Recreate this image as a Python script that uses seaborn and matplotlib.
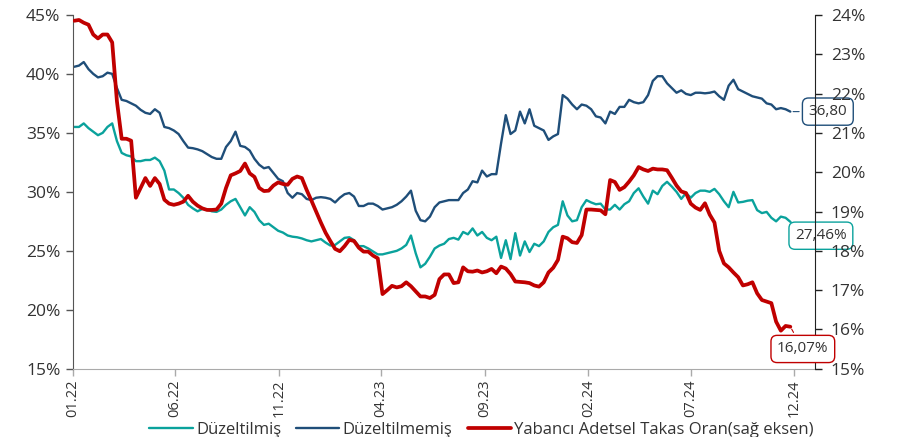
import matplotlib
matplotlib.use("Agg")
import matplotlib.pyplot as plt
import matplotlib.dates as mdates
from matplotlib.ticker import FuncFormatter, MultipleLocator
import pandas as pd
import seaborn as sns

# Weekly observations (Mondays), Jan 2022 - Nov 2024
dates = pd.date_range("2022-01-03", periods=152, freq="7D")

# Adjusted foreign share (%), left axis
duzeltilmis = [
    35.5, 35.5, 35.8, 35.4, 35.1, 34.8, 35.0, 35.5, 35.8, 34.3,
    33.3, 33.1, 33.0, 32.6, 32.6, 32.7, 32.7, 32.9, 32.6, 31.8,
    30.2, 30.2, 29.9, 29.5, 28.9, 28.6, 28.35, 28.55, 28.5, 28.35,
    28.3, 28.5, 28.9, 29.2, 29.4, 28.7, 28.0, 28.7, 28.3, 27.6,
    27.2, 27.3, 27.0, 26.7, 26.55, 26.3, 26.2, 26.15, 26.05, 25.9,
    25.8, 25.9, 26.0, 25.7, 25.45, 25.5, 25.8, 26.1, 26.15, 25.9,
    25.4, 25.4, 25.2, 24.95, 24.7, 24.7, 24.8, 24.9, 25.0, 25.2,
    25.5, 26.3, 24.8, 23.6, 23.9, 24.5, 25.2, 25.45, 25.6, 26.0,
    26.1, 25.95, 26.6, 26.4, 26.9, 26.3, 26.6, 26.1, 25.9, 26.2,
    24.4, 25.9, 24.3, 26.5, 24.6, 25.8, 24.9, 25.6, 25.4, 25.8,
    26.6, 27.0, 27.2, 29.2, 28.0, 27.5, 27.6, 28.7, 29.3, 29.1,
    28.95, 29.0, 28.5, 28.5, 28.9, 28.5, 28.95, 29.2, 29.9, 30.3,
    29.6, 29.0, 30.1, 29.8, 30.5, 30.85, 30.45, 30.0, 29.4, 29.9,
    29.5, 29.9, 30.1, 30.1, 30.0, 30.25, 29.8, 29.2, 28.7, 30.0,
    29.1, 29.15, 29.25, 29.3, 28.45, 28.2, 28.3, 27.8, 27.5, 27.9,
    27.8, 27.46,
]

# Unadjusted foreign share (%), left axis
duzeltilmemis = [
    40.6, 40.7, 41.0, 40.4, 40.0, 39.7, 39.8, 40.1, 40.0, 38.8,
    37.8, 37.7, 37.5, 37.3, 36.95, 36.7, 36.6, 37.0, 36.7, 35.5,
    35.4, 35.2, 34.9, 34.3, 33.75, 33.7, 33.6, 33.45, 33.2, 32.95,
    32.8, 32.8, 33.8, 34.3, 35.1, 33.9, 33.8, 33.5, 32.8, 32.3,
    32.0, 32.1, 31.6, 31.1, 30.9, 29.9, 29.5, 29.9, 29.8, 29.4,
    29.3, 29.5, 29.55, 29.5, 29.4, 29.1, 29.5, 29.8, 29.9, 29.6,
    28.8, 28.8, 29.0, 29.0, 28.8, 28.5, 28.6, 28.7, 28.9, 29.2,
    29.6, 30.1, 28.4, 27.6, 27.5, 27.9, 28.7, 29.1, 29.2, 29.3,
    29.3, 29.3, 29.9, 30.2, 30.9, 30.8, 31.8, 31.3, 31.5, 31.5,
    34.1, 36.5, 34.9, 35.2, 36.8, 35.8, 37.0, 35.6, 35.4, 35.2,
    34.4, 34.7, 34.9, 38.2, 37.9, 37.4, 37.0, 37.4, 37.3, 37.0,
    36.4, 36.3, 35.8, 36.8, 36.6, 37.2, 37.2, 37.8, 37.6, 37.5,
    37.6, 38.2, 39.4, 39.8, 39.8, 39.2, 38.8, 38.4, 38.6, 38.3,
    38.2, 38.4, 38.4, 38.35, 38.4, 38.5, 38.1, 37.8, 39.0, 39.5,
    38.7, 38.5, 38.3, 38.1, 38.0, 37.9, 37.5, 37.4, 37.0, 37.1,
    37.0, 36.80,
]

# Foreign custody ratio by count (%), right axis
takas_orani = [
    23.85, 23.87, 23.8, 23.75, 23.5, 23.4, 23.5, 23.5, 23.3, 21.8,
    20.85, 20.85, 20.8, 19.35, 19.6, 19.85, 19.65, 19.85, 19.7, 19.3,
    19.2, 19.17, 19.2, 19.25, 19.4, 19.25, 19.15, 19.08, 19.04, 19.04,
    19.05, 19.2, 19.6, 19.92, 19.97, 20.03, 20.22, 19.97, 19.88, 19.6,
    19.52, 19.53, 19.66, 19.74, 19.7, 19.68, 19.83, 19.89, 19.85, 19.55,
    19.28, 19.0, 18.72, 18.46, 18.25, 18.05, 17.99, 18.12, 18.28, 18.25,
    18.08, 17.98, 17.98, 17.88, 17.81, 16.9, 17.0, 17.11, 17.07, 17.1,
    17.2, 17.1, 16.97, 16.84, 16.84, 16.8, 16.88, 17.28, 17.4, 17.4,
    17.18, 17.2, 17.58, 17.48, 17.47, 17.5, 17.45, 17.48, 17.54, 17.43,
    17.6, 17.55, 17.41, 17.22, 17.21, 17.2, 17.18, 17.12, 17.09, 17.2,
    17.45, 17.57, 17.77, 18.36, 18.32, 18.22, 18.2, 18.4, 19.05, 19.05,
    19.04, 19.03, 18.93, 19.8, 19.75, 19.55, 19.62, 19.76, 19.92, 20.13,
    20.07, 20.03, 20.09, 20.07, 20.07, 20.05, 19.86, 19.66, 19.51, 19.47,
    19.2, 19.1, 19.04, 19.21, 18.92, 18.72, 18.0, 17.68, 17.58, 17.45,
    17.33, 17.12, 17.15, 17.2, 16.92, 16.75, 16.71, 16.67, 16.2, 15.97,
    16.09, 16.07,
]

names = ["Düzeltilmiş", "Düzeltilmemiş", "Yabancı Adetsel Takas Oran(sağ eksen)"]
colors = ["#0AA29C", "#1F4E79", "#C00000"]
tick_dates = ["2022-01-01", "2022-06-01", "2022-11-01", "2023-04-01",
              "2023-09-01", "2024-02-01", "2024-07-01", "2024-12-01"]

df_left = pd.DataFrame({"Tarih": dates, names[0]: duzeltilmis, names[1]: duzeltilmemis})
df_right = pd.DataFrame({"Tarih": dates, names[2]: takas_orani})

sns.set_style("white")
plt.rcParams["font.family"] = ["Open Sans", "DejaVu Sans"]
text_color = "#333333"

fig = plt.figure(figsize=(9.0, 4.37), dpi=100)
ax = fig.add_axes([0.081, 0.156, 0.825, 0.810])
ax2 = ax.twinx()

sns.lineplot(data=df_left, x="Tarih", y=names[0], ax=ax, color=colors[0],
             linewidth=1.7, label=names[0], legend=False)
sns.lineplot(data=df_left, x="Tarih", y=names[1], ax=ax, color=colors[1],
             linewidth=1.7, label=names[1], legend=False)
sns.lineplot(data=df_right, x="Tarih", y=names[2], ax=ax2, color=colors[2],
             linewidth=2.7, label=names[2], legend=False)

ax.set_xlim(pd.Timestamp("2022-01-01"), pd.Timestamp("2025-01-01"))
ax.set_ylim(15, 45)
ax2.set_ylim(15, 24)
ax.yaxis.set_major_locator(MultipleLocator(5))
ax2.yaxis.set_major_locator(MultipleLocator(1))
pct = FuncFormatter(lambda v, p: f"{v:.0f}%")
ax.yaxis.set_major_formatter(pct)
ax2.yaxis.set_major_formatter(pct)

ax.set_xticks(pd.to_datetime(tick_dates))
ax.xaxis.set_major_formatter(mdates.DateFormatter("%m.%y"))
for lbl in ax.get_xticklabels():
    lbl.set_rotation(90)

for a in (ax, ax2):
    a.set_xlabel("")
    a.set_ylabel("")
    a.grid(False)
    for s in a.spines.values():
        s.set_visible(False)

ax.spines["left"].set_visible(True)
ax.spines["left"].set_color("#555555")
ax.spines["bottom"].set_visible(True)
ax.spines["bottom"].set_color("#aaaaaa")
ax2.spines["right"].set_visible(True)
ax2.spines["right"].set_color("#222222")

ax.tick_params(axis="y", which="major", length=5, width=1, color="#555555",
               labelsize=12.5, labelcolor=text_color, pad=4, left=True)
ax.tick_params(axis="x", which="major", length=5, width=1, color="#aaaaaa",
               labelsize=10.5, labelcolor=text_color, pad=3, bottom=True)
ax2.tick_params(axis="y", which="major", length=5, width=1, color="#222222",
                labelsize=12.5, labelcolor=text_color, pad=6, right=True)

# End-of-series value callouts
box_kw = dict(fontsize=11, color=text_color, ha="center", va="center",
              textcoords="offset points")
ax.annotate("36,80", xy=(dates[-1], duzeltilmemis[-1]), xytext=(27, 0),
            bbox=dict(boxstyle="round,pad=0.4", fc="white", ec=colors[1], lw=1),
            arrowprops=dict(arrowstyle="-", color=colors[1], lw=0.8), **box_kw)
ax.annotate("27,46%", xy=(dates[-1], duzeltilmis[-1]), xytext=(22, -10),
            bbox=dict(boxstyle="round,pad=0.4", fc="white", ec=colors[0], lw=1),
            arrowprops=dict(arrowstyle="-", color=colors[0], lw=0.8), **box_kw)
ax2.annotate("16,07%", xy=(dates[-1], takas_orani[-1]), xytext=(9, -16),
             bbox=dict(boxstyle="round,pad=0.4", fc="white", ec=colors[2], lw=1),
             arrowprops=dict(arrowstyle="-", color=colors[2], lw=0.8), **box_kw)

handles = ax.get_lines()[:2] + ax2.get_lines()[:1]
fig.legend(handles, names, loc="center", bbox_to_anchor=(0.535, 0.016),
           ncol=3, frameon=False, fontsize=12, handlelength=2.6,
           handletextpad=0.2, columnspacing=0.9, labelcolor=text_color,
           borderpad=0.0)

fig.savefig("out.png", dpi=100)
